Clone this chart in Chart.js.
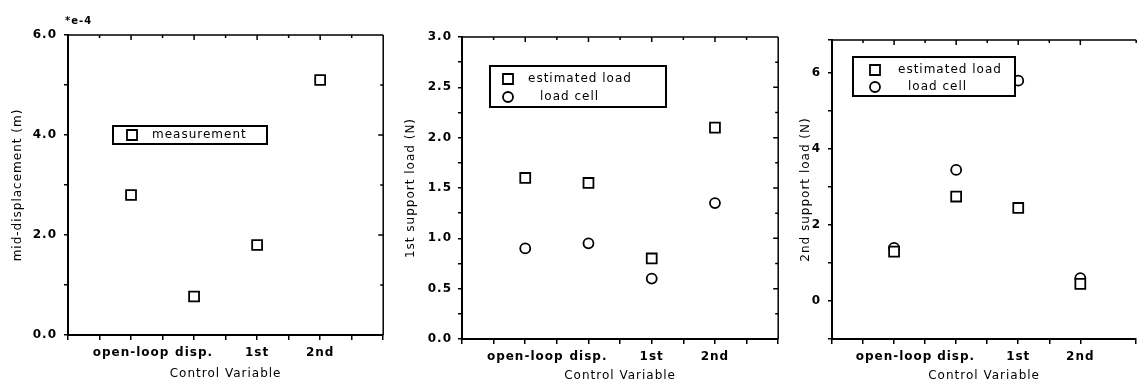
<!DOCTYPE html>
<html>
<head>
<meta charset="utf-8">
<script src="https://cdn.jsdelivr.net/npm/chart.js@4/dist/chart.umd.min.js"></script>
<style>
  html, body { margin: 0; padding: 0; background: #fff; overflow: hidden; width: 1145px; height: 383px; }
  .panel { position: absolute; top: 0; height: 383px; }
</style>
</head>
<body>
<div class="panel" style="left:0"><canvas id="c1" width="392" height="383"></canvas></div>
<div class="panel" style="left:392px"><canvas id="c2" width="395" height="383"></canvas></div>
<div class="panel" style="left:787px"><canvas id="c3" width="358" height="383"></canvas></div>
<script>
// Data
const categories = ['open-loop', 'disp.', '1st', '2nd'];
const midDisplacement = [2.8, 0.77, 1.8, 5.1];      // * 1e-4 m
const load1Estimated = [1.6, 1.55, 0.8, 2.1];
const load1Cell = [0.9, 0.95, 0.6, 1.35];
const load2Estimated = [1.3, 2.75, 2.45, 0.45];
const load2Cell = [1.4, 3.45, 5.8, 0.6];

const tickFont = { family: 'DejaVu Sans', size: 12, weight: 'bold' };
const titleFont = { family: 'DejaVu Sans', size: 12 };

function points(values) {
  return values.map((v, i) => ({ x: i + 1, y: v }));
}

function squares(label, values) {
  return { label, data: points(values), pointStyle: 'rect', pointRadius: 7, pointBorderWidth: 1.8,
    borderColor: '#000', backgroundColor: '#fff', showLine: false };
}

function circles(label, values) {
  return { label, data: points(values), pointStyle: 'circle', pointRadius: 5, pointBorderWidth: 1.8,
    borderColor: '#000', backgroundColor: '#fff', showLine: false };
}

function xScale(max, height, titlePad) {
  return {
    type: 'linear', min: 0, max: max,
    ticks: {
      stepSize: 0.5, autoSkip: false, maxRotation: 0, color: '#000', font: tickFont, padding: 6,
      callback: v => (Number.isInteger(v) && v >= 1 && v <= categories.length) ? categories[v - 1] : ''
    },
    grid: { drawOnChartArea: false, tickLength: 5, color: '#000', lineWidth: 1.5 },
    border: { color: '#000', width: 2 },
    title: { display: true, text: 'Control Variable', color: '#000', font: titleFont, padding: { top: 0, bottom: titlePad } },
    afterFit: s => { s.height = height; }
  };
}

function yScale(min, max, step, every, digits, title, width, tickPad, titlePad) {
  return {
    type: 'linear', min: min, max: max,
    ticks: {
      stepSize: step, autoSkip: false, color: '#000', font: tickFont, padding: tickPad,
      callback: v => {
        const r = v / every;
        return (v >= 0 && Math.abs(r - Math.round(r)) < 1e-6) ? v.toFixed(digits) : '';
      }
    },
    grid: { drawOnChartArea: false, tickLength: 4, color: '#000', lineWidth: 1.5 },
    border: { color: '#000', width: 2 },
    title: { display: true, text: title, color: '#000', font: titleFont, padding: { top: titlePad, bottom: 0 } },
    afterFit: s => { s.width = width; }
  };
}

// top/right frame with inward ticks, boxed legend and exponent note
const framePlugin = {
  id: 'frame',
  beforeDraw(chart) {
    chart.ctx.letterSpacing = '1px';
  },
  afterDraw(chart, args, opts) {
    const { ctx, chartArea: a, scales } = chart;
    ctx.save();
    ctx.strokeStyle = '#000';
    ctx.lineWidth = 1.5;
    ctx.beginPath();
    ctx.moveTo(a.left, a.top);
    ctx.lineTo(a.right, a.top);
    scales.x.ticks.forEach(t => {
      const px = scales.x.getPixelForValue(t.value);
      ctx.moveTo(px, a.top);
      ctx.lineTo(px, a.top + (t.label ? 5 : 3));
    });
    if (opts.right) {
      ctx.moveTo(a.right, a.top);
      ctx.lineTo(a.right, a.bottom);
      scales.y.ticks.forEach(t => {
        const py = scales.y.getPixelForValue(t.value);
        ctx.moveTo(a.right, py);
        ctx.lineTo(a.right - (t.label ? 5 : 3), py);
      });
    }
    ctx.stroke();

    const lg = opts.legend;
    if (lg) {
      ctx.lineWidth = 2;
      ctx.fillStyle = '#fff';
      ctx.fillRect(lg.x, lg.y, lg.w, lg.h);
      ctx.strokeRect(lg.x, lg.y, lg.w, lg.h);
      ctx.font = '12px "DejaVu Sans"';
      ctx.textBaseline = 'middle';
      lg.rows.forEach((r, i) => {
        const ds = chart.data.datasets[i];
        ctx.lineWidth = 1.8;
        ctx.beginPath();
        if (ds.pointStyle === 'rect') {
          ctx.rect(r.mx - 5, r.my - 5, 10, 10);
        } else {
          ctx.arc(r.mx, r.my, 5, 0, Math.PI * 2);
        }
        ctx.fillStyle = '#fff';
        ctx.fill();
        ctx.stroke();
        ctx.fillStyle = '#000';
        ctx.fillText(ds.label, r.tx, r.my);
      });
    }

    if (opts.note) {
      ctx.fillStyle = '#000';
      ctx.font = 'bold 10px "DejaVu Sans"';
      ctx.textBaseline = 'middle';
      ctx.fillText(opts.note.text, opts.note.x, opts.note.y);
    }
    ctx.restore();
  }
};

function makeChart(id, datasets, scales, padding, frame) {
  return new Chart(document.getElementById(id), {
    type: 'scatter',
    data: { datasets },
    options: {
      responsive: false,
      animation: false,
      layout: { padding },
      plugins: { legend: { display: false }, tooltip: { enabled: false }, frame },
      scales
    },
    plugins: [framePlugin]
  });
}

makeChart('c1',
  [squares('measurement', midDisplacement)],
  { x: xScale(5, 48, 2), y: yScale(0, 6, 1, 2, 1, 'mid-displacement (m)', 68, 7, 11) },
  { top: 35, right: 2, left: 0, bottom: 0 },
  { right: true,
    legend: { x: 113, y: 126, w: 154, h: 18, rows: [{ mx: 132, my: 135, tx: 152 }] },
    note: { text: '*e-4', x: 65, y: 21 } });

makeChart('c2',
  [squares('estimated load', load1Estimated), circles('load cell', load1Cell)],
  { x: xScale(5, 44, 0), y: yScale(0, 3, 0.25, 0.5, 1, '1st support load (N)', 70, 6, 12) },
  { top: 37, right: 2, left: 0, bottom: 0 },
  { right: true,
    legend: { x: 98, y: 66, w: 176, h: 41, rows: [{ mx: 116, my: 79, tx: 136 }, { mx: 116, my: 97, tx: 148 }] } });

makeChart('c3',
  [squares('estimated load', load2Estimated), circles('load cell', load2Cell)],
  { x: xScale(4.9, 44, 0), y: yScale(-1, 6.87, 1, 2, 0, '2nd support load (N)', 45, 7, 12) },
  { top: 40, right: 0, left: 0, bottom: 0 },
  { right: false,
    legend: { x: 66, y: 57, w: 162, h: 39, rows: [{ mx: 88, my: 70, tx: 111 }, { mx: 88, my: 87, tx: 121 }] } });
</script>
</body>
</html>
